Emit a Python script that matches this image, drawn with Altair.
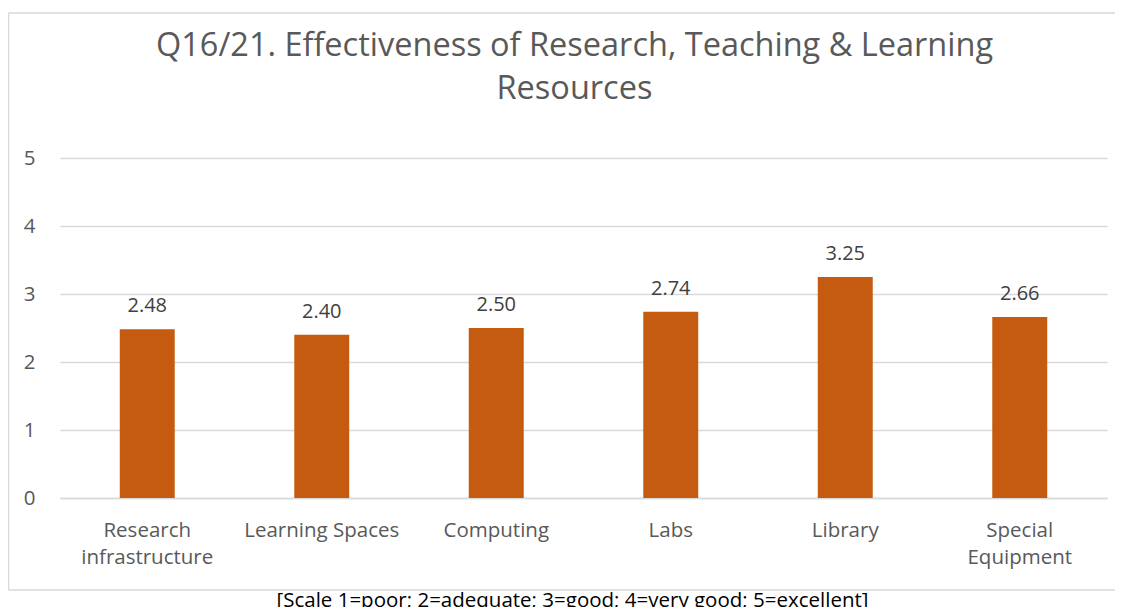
import altair as alt
import pandas as pd

categories = ["Research infrastructure", "Learning Spaces", "Computing", "Labs", "Library", "Special Equipment"]
values = [2.48, 2.40, 2.50, 2.74, 3.25, 2.66]
title_lines = ["Q16/21. Effectiveness of Research, Teaching & Learning", "Resources"]
caption = "[Scale 1=poor; 2=adequate; 3=good; 4=very good; 5=excellent]"
y_ticks = [0, 1, 2, 3, 4, 5]

df = pd.DataFrame({"category": categories, "value": values})

FONT = "Open Sans"
BAR = "#C55A11"
GRID = "#D9D9D9"

x_enc = alt.X(
    "category:N",
    sort=categories,
    scale=alt.Scale(paddingInner=0.685, paddingOuter=0.3425),
    axis=alt.Axis(
        title=caption,
        titleFont=FONT,
        titleFontSize=20.5,
        titleFontWeight="normal",
        titleColor="#000000",
        titleX=512,
        titleY=108,
        titleBaseline="alphabetic",
        titleAnchor="start",
        titleAlign="center",
        labelAngle=0,
        labelFont=FONT,
        labelFontSize=20.5,
        labelColor="#595959",
        labelPadding=22,
        labelLineHeight=27,
        labelExpr="indexof(['Research infrastructure','Special Equipment'], datum.label) >= 0 ? split(datum.label, ' ') : datum.label",
        ticks=False,
        domain=True,
        domainColor=GRID,
        domainWidth=1.5,
    ),
)

bars = alt.Chart(df).mark_bar(color=BAR).encode(
    x=x_enc,
    y=alt.Y(
        "value:Q",
        scale=alt.Scale(domain=[0, 5], nice=False),
        axis=alt.Axis(
            title=None,
            values=y_ticks,
            format="d",
            labelFont=FONT,
            labelFontSize=20.5,
            labelColor="#595959",
            labelPadding=25,
            ticks=False,
            domain=False,
            grid=True,
            gridColor=GRID,
            gridWidth=1.5,
        ),
    ),
)

labels = alt.Chart(df).mark_text(
    font=FONT, fontSize=20, color="#404040", baseline="alphabetic", dy=-17
).encode(
    x=alt.X("category:N", sort=categories),
    y=alt.Y("value:Q"),
    text=alt.Text("value:Q", format=".2f"),
)

one = pd.DataFrame({"f": [0]})
frame_top = alt.Chart(one).mark_rule(color=GRID, strokeWidth=1.5, clip=False).encode(
    x=alt.value(-51.5), x2=alt.value(1055), y=alt.value(-145)
)
frame_bottom = alt.Chart(one).mark_rule(color=GRID, strokeWidth=1.5, clip=False).encode(
    x=alt.value(-51.5), x2=alt.value(1055), y=alt.value(432)
)
frame_left = alt.Chart(one).mark_rule(color=GRID, strokeWidth=1.5, clip=False).encode(
    x=alt.value(-51.5), y=alt.value(-145), y2=alt.value(432)
)

chart = alt.layer(frame_top, frame_bottom, frame_left, bars, labels).properties(
    width=1047,
    height=340,
    autosize=alt.AutoSizeParams(type="none"),
    padding={"left": 52, "top": 150, "right": 8, "bottom": 109},
    title=alt.TitleParams(
        text=title_lines,
        font=FONT,
        fontSize=32.5,
        fontWeight="normal",
        color="#595959",
        anchor="middle",
        frame="group",
        dx=-9,
        lineHeight=43,
        offset=-93,
    ),
).configure(background="white").configure_view(stroke=None, strokeWidth=0)

chart.save("out.html", embed_options={"renderer": "svg", "actions": False})
